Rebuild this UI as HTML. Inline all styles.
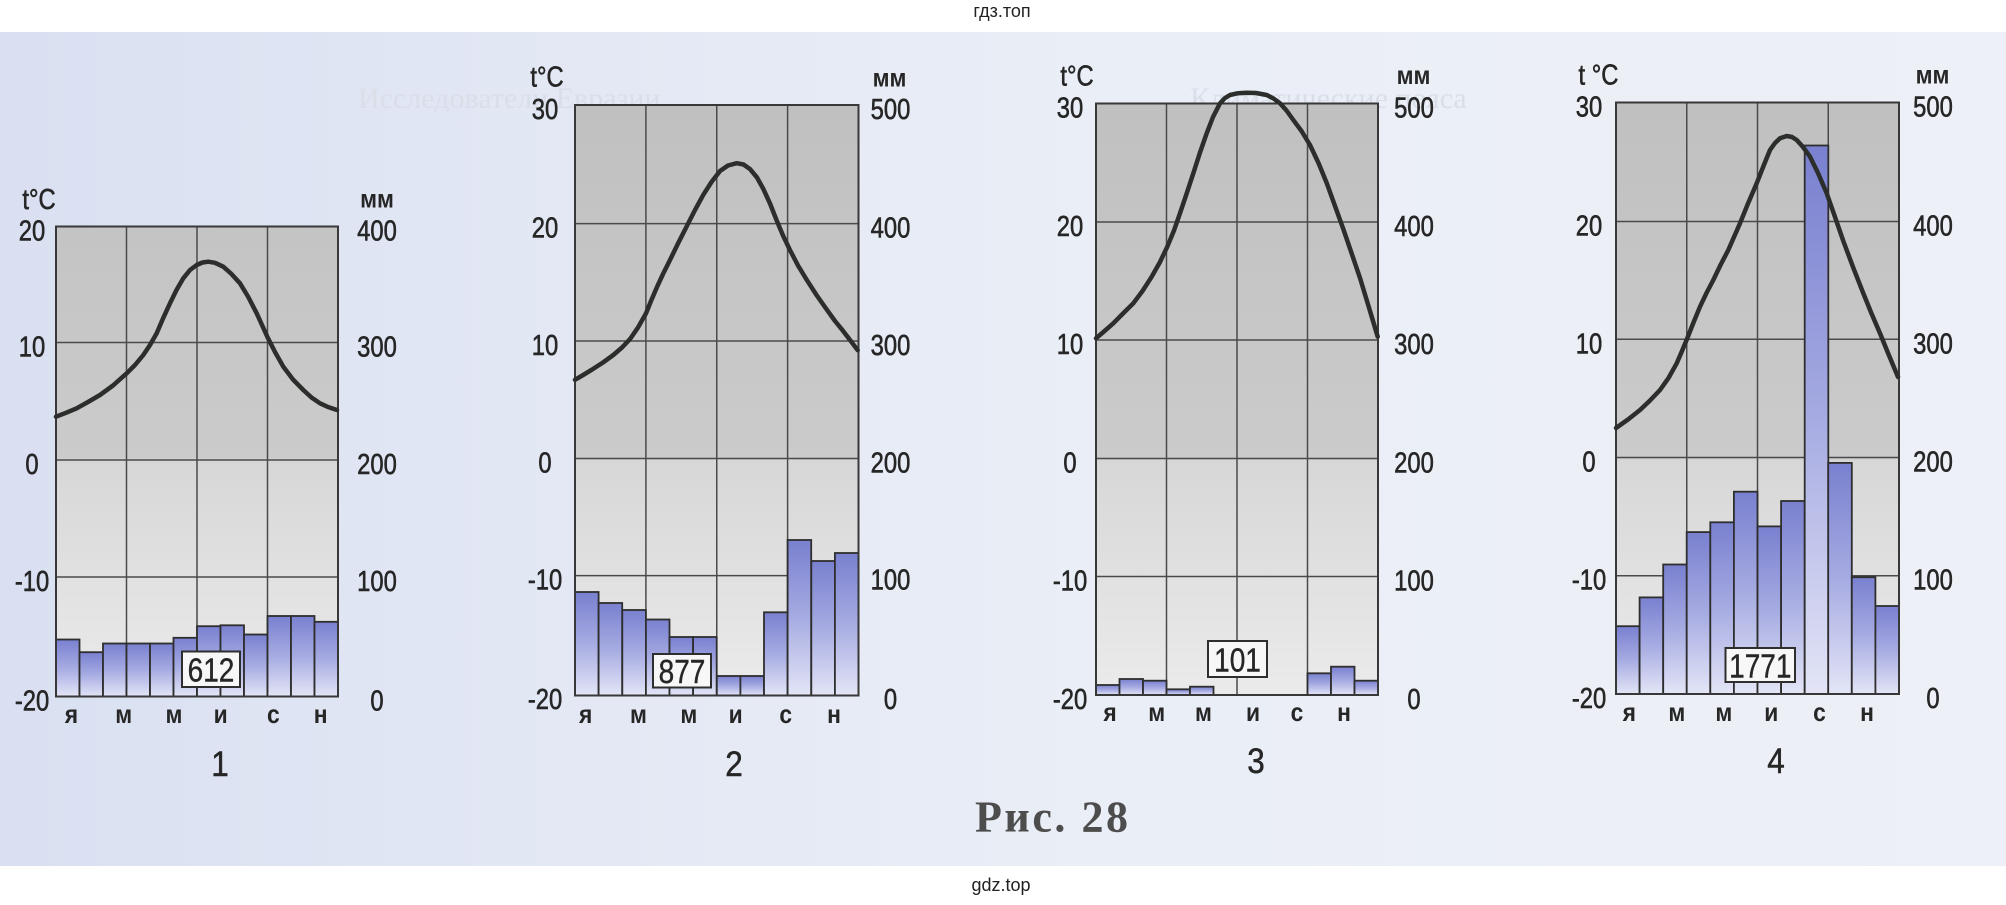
<!DOCTYPE html>
<html><head><meta charset="utf-8"><style>
html,body{margin:0;padding:0;background:#fff;}
body{width:2006px;height:905px;overflow:hidden;}
svg{display:block;}
.t{font-family:"Liberation Sans",sans-serif;font-size:29px;text-anchor:middle;fill:#262626;stroke:#262626;stroke-width:0.6;}
.m{font-family:"Liberation Sans",sans-serif;font-size:26px;font-weight:bold;text-anchor:middle;fill:#262626;}
.n{font-family:"Liberation Sans",sans-serif;font-size:35px;text-anchor:middle;fill:#262626;stroke:#262626;stroke-width:0.5;}
.b{font-family:"Liberation Sans",sans-serif;font-size:33px;text-anchor:middle;fill:#262626;stroke:#262626;stroke-width:0.4;}
.g{stroke:#4a4a4a;stroke-width:1.5;fill:none;}
.br{stroke:#2e2e2e;stroke-width:1.8;fill:url(#bar);}
.fr{fill:none;stroke:#383838;stroke-width:2;}
.cv{fill:none;stroke:#2c2e2c;stroke-width:4.5;stroke-linejoin:round;stroke-linecap:round;}
.bx{fill:#f7f7f7;stroke:#2e2e2e;stroke-width:2;}
.gh{font-family:"Liberation Serif",serif;font-size:30px;fill:#d9dee9;}
</style></head><body>
<svg width="2006" height="905" viewBox="0 0 2006 905" xmlns="http://www.w3.org/2000/svg">
<defs>
<linearGradient id="pg" x1="0" y1="0" x2="1" y2="0">
<stop offset="0" stop-color="#d9e0f1"/><stop offset="0.25" stop-color="#e2e7f4"/><stop offset="0.55" stop-color="#eaeef6"/><stop offset="1" stop-color="#edf0f6"/>
</linearGradient>
<linearGradient id="gb" gradientUnits="userSpaceOnUse" x1="0" y1="100" x2="0" y2="696">
<stop offset="0" stop-color="#c0c0c0"/><stop offset="0.6" stop-color="#cbcbcb"/><stop offset="0.605" stop-color="#d7d7d7"/><stop offset="1" stop-color="#ebebeb"/>
</linearGradient>
<linearGradient id="bar" x1="0" y1="0" x2="0" y2="1">
<stop offset="0" stop-color="#7980cf"/><stop offset="0.5" stop-color="#a6abe2"/><stop offset="1" stop-color="#e3e5f6"/>
</linearGradient>
</defs>

<rect x="0" y="0" width="2006" height="905" fill="#ffffff"/>
<rect x="0" y="32" width="2006" height="834" fill="url(#pg)"/>

<!-- faint bleed-through text -->
<text class="gh" x="358" y="108">Исследователи Евразии</text>
<text class="gh" x="1190" y="108">Климатические пояса</text>

<!-- watermarks -->
<text x="1002" y="17" font-family="Liberation Sans, sans-serif" font-size="18" text-anchor="middle" fill="#222">гдз.топ</text>
<text x="1001" y="891" font-family="Liberation Sans, sans-serif" font-size="18" text-anchor="middle" fill="#222">gdz.top</text>

<!-- ============ CHART 1 ============ -->
<rect x="56" y="226.5" width="282" height="470" fill="url(#gb)"/>
<line class="g" x1="56" y1="342.5" x2="338" y2="342.5"/>
<line class="g" x1="56" y1="460" x2="338" y2="460"/>
<line class="g" x1="56" y1="577" x2="338" y2="577"/>
<line class="g" x1="126.5" y1="226.5" x2="126.5" y2="696.5"/>
<line class="g" x1="197" y1="226.5" x2="197" y2="696.5"/>
<line class="g" x1="267.5" y1="226.5" x2="267.5" y2="696.5"/>
<rect class="br" x="56" y="639.5" width="23.5" height="57"/>
<rect class="br" x="79.5" y="652.2" width="23.5" height="44.3"/>
<rect class="br" x="103" y="643.5" width="23.5" height="53"/>
<rect class="br" x="126.5" y="643.5" width="23.5" height="53"/>
<rect class="br" x="150" y="643.5" width="23.5" height="53"/>
<rect class="br" x="173.5" y="637.8" width="23.5" height="58.7"/>
<rect class="br" x="197" y="626.2" width="23.5" height="70.3"/>
<rect class="br" x="220.5" y="625.3" width="23.5" height="71.2"/>
<rect class="br" x="244" y="634.5" width="23.5" height="62"/>
<rect class="br" x="267.5" y="616" width="23.5" height="80.5"/>
<rect class="br" x="291" y="616" width="23.5" height="80.5"/>
<rect class="br" x="314.5" y="621.8" width="23.5" height="74.7"/>
<rect class="fr" x="56" y="226.5" width="282" height="470"/>
<polyline class="cv" points="56,416.7 66,412.8 76.7,408.3 88,402 100,395 113,385.5 126.7,373.3 135,365 143.3,355 150,345 156.7,333.3 163,318.5 170,303.3 176.5,290 183.3,278.3 190,270 196.7,265 202.5,262.5 208.3,261.7 215,262.8 223.3,266.7 231,273.5 240,283.3 248,296.5 256.7,313.3 262,325 267.3,336.7 275,352 283.3,366.7 293,379.5 303.3,390 311.5,397.5 320,403.3 328,407 337,410"/>
<rect class="bx" x="182" y="651.5" width="58" height="35.5"/>
<text class="b" transform="translate(211,681.5) scale(0.85,1)">612</text>
<text class="t" transform="translate(39,209) scale(0.82,1)">t°C</text>
<text class="m" transform="translate(377,207.5) scale(0.88,1)">мм</text>
<text class="t" transform="translate(32,240.5) scale(0.82,1)">20</text>
<text class="t" transform="translate(32,356.5) scale(0.82,1)">10</text>
<text class="t" transform="translate(32,474) scale(0.82,1)">0</text>
<text class="t" transform="translate(32,591) scale(0.82,1)">-10</text>
<text class="t" transform="translate(32,710.5) scale(0.82,1)">-20</text>
<text class="t" transform="translate(377,240.5) scale(0.82,1)">400</text>
<text class="t" transform="translate(377,356.5) scale(0.82,1)">300</text>
<text class="t" transform="translate(377,474) scale(0.82,1)">200</text>
<text class="t" transform="translate(377,591) scale(0.82,1)">100</text>
<text class="t" transform="translate(377,710.5) scale(0.82,1)">0</text>
<text class="m" transform="translate(71.4,723) scale(0.88,1)">я</text>
<text class="m" transform="translate(123.7,723) scale(0.88,1)">м</text>
<text class="m" transform="translate(174,723) scale(0.88,1)">м</text>
<text class="m" transform="translate(220.7,723) scale(0.88,1)">и</text>
<text class="m" transform="translate(273.3,723) scale(0.88,1)">с</text>
<text class="m" transform="translate(320.7,723) scale(0.88,1)">н</text>
<text class="n" transform="translate(220,776) scale(0.9,1)">1</text>

<!-- ============ CHART 2 ============ -->
<rect x="575" y="105" width="283.5" height="590.5" fill="url(#gb)"/>
<line class="g" x1="575" y1="223.6" x2="858.5" y2="223.6"/>
<line class="g" x1="575" y1="341" x2="858.5" y2="341"/>
<line class="g" x1="575" y1="458.5" x2="858.5" y2="458.5"/>
<line class="g" x1="575" y1="575.6" x2="858.5" y2="575.6"/>
<line class="g" x1="645.9" y1="105" x2="645.9" y2="695.5"/>
<line class="g" x1="716.75" y1="105" x2="716.75" y2="695.5"/>
<line class="g" x1="787.6" y1="105" x2="787.6" y2="695.5"/>
<rect class="br" x="575" y="592" width="23.6" height="103.5"/>
<rect class="br" x="598.6" y="603" width="23.6" height="92.5"/>
<rect class="br" x="622.3" y="610" width="23.6" height="85.5"/>
<rect class="br" x="645.9" y="619.5" width="23.6" height="76"/>
<rect class="br" x="669.5" y="637" width="23.6" height="58.5"/>
<rect class="br" x="693.1" y="637" width="23.6" height="58.5"/>
<rect class="br" x="716.8" y="676" width="23.6" height="19.5"/>
<rect class="br" x="740.4" y="676" width="23.6" height="19.5"/>
<rect class="br" x="764" y="612.3" width="23.6" height="83.2"/>
<rect class="br" x="787.6" y="540" width="23.6" height="155.5"/>
<rect class="br" x="811.3" y="561" width="23.6" height="134.5"/>
<rect class="br" x="834.9" y="553" width="23.6" height="142.5"/>
<rect class="fr" x="575" y="105" width="283.5" height="590.5"/>
<polyline class="cv" points="575,379.8 584,374.5 593.3,368.8 603,362.5 613.3,355 622,347.5 630,339.1 638,327.5 646,313.4 651,301 656.7,287.7 663,274 670,260 678,243.5 686.7,226.4 695,210 703.3,194.8 711.5,182 720,171 728,165.5 736.7,163.2 743.5,164.5 750,169.1 757,177.5 763.3,188.9 770,203.5 776.7,220.5 783,235.5 790,250.1 798,265.5 806.7,279.8 816.5,295 826.7,309.5 835,321 843.3,331.2 850,340 857.7,350.2"/>
<rect class="bx" x="653" y="654" width="58" height="33.5"/>
<text class="b" transform="translate(682,683) scale(0.85,1)">877</text>
<text class="t" transform="translate(547,86.5) scale(0.82,1)">t°C</text>
<text class="m" transform="translate(889.5,86.5) scale(0.88,1)">мм</text>
<text class="t" transform="translate(545,119) scale(0.82,1)">30</text>
<text class="t" transform="translate(545,237.6) scale(0.82,1)">20</text>
<text class="t" transform="translate(545,355) scale(0.82,1)">10</text>
<text class="t" transform="translate(545,472.5) scale(0.82,1)">0</text>
<text class="t" transform="translate(545,589.6) scale(0.82,1)">-10</text>
<text class="t" transform="translate(545,709) scale(0.82,1)">-20</text>
<text class="t" transform="translate(890.5,119) scale(0.82,1)">500</text>
<text class="t" transform="translate(890.5,237.6) scale(0.82,1)">400</text>
<text class="t" transform="translate(890.5,355) scale(0.82,1)">300</text>
<text class="t" transform="translate(890.5,472.5) scale(0.82,1)">200</text>
<text class="t" transform="translate(890.5,589.6) scale(0.82,1)">100</text>
<text class="t" transform="translate(890.5,709) scale(0.82,1)">0</text>
<text class="m" transform="translate(585.7,723) scale(0.88,1)">я</text>
<text class="m" transform="translate(638.4,723) scale(0.88,1)">м</text>
<text class="m" transform="translate(688.8,723) scale(0.88,1)">м</text>
<text class="m" transform="translate(735.7,723) scale(0.88,1)">и</text>
<text class="m" transform="translate(785.7,723) scale(0.88,1)">с</text>
<text class="m" transform="translate(834,723) scale(0.88,1)">н</text>
<text class="n" transform="translate(734,776) scale(0.9,1)">2</text>

<!-- ============ CHART 3 ============ -->
<rect x="1096" y="103.5" width="282" height="591.5" fill="url(#gb)"/>
<line class="g" x1="1096" y1="222" x2="1378" y2="222"/>
<line class="g" x1="1096" y1="340" x2="1378" y2="340"/>
<line class="g" x1="1096" y1="458.5" x2="1378" y2="458.5"/>
<line class="g" x1="1096" y1="576.5" x2="1378" y2="576.5"/>
<line class="g" x1="1166.5" y1="103.5" x2="1166.5" y2="695"/>
<line class="g" x1="1237" y1="103.5" x2="1237" y2="695"/>
<line class="g" x1="1307.5" y1="103.5" x2="1307.5" y2="695"/>
<rect class="br" x="1096" y="685" width="23.5" height="10"/>
<rect class="br" x="1119.5" y="679" width="23.5" height="16"/>
<rect class="br" x="1143" y="680.7" width="23.5" height="14.3"/>
<rect class="br" x="1166.5" y="689.3" width="23.5" height="5.7"/>
<rect class="br" x="1190" y="686.7" width="23.5" height="8.3"/>
<rect class="br" x="1307.5" y="673.3" width="23.5" height="21.7"/>
<rect class="br" x="1331" y="666.7" width="23.5" height="28.3"/>
<rect class="br" x="1354.5" y="680.7" width="23.5" height="14.3"/>
<rect class="fr" x="1096" y="103.5" width="282" height="591.5"/>
<polyline class="cv" points="1096,338.3 1104,331.5 1113.3,323.3 1123,313.5 1133.3,303.3 1142.5,291 1151.7,276.7 1160,262 1167.3,246.7 1174,230.5 1180,213.3 1186.5,194 1193.3,173.3 1200,152.5 1206.7,133.3 1213,117 1220,103.3 1225,98 1230,95 1238,93.2 1246.7,92.7 1256,93 1266.7,95 1273.5,98.5 1280,103.3 1286.5,110.5 1293.3,120 1301.5,131 1310,145 1318.5,163 1326.7,183 1335,206 1343.3,229 1351.5,253 1360,278 1368.5,306 1377.7,336.7"/>
<rect class="bx" x="1208" y="641" width="59" height="36"/>
<text class="b" transform="translate(1237.5,671.5) scale(0.85,1)">101</text>
<text class="t" transform="translate(1077,85.5) scale(0.82,1)">t°C</text>
<text class="m" transform="translate(1413.5,84) scale(0.88,1)">мм</text>
<text class="t" transform="translate(1070,117.5) scale(0.82,1)">30</text>
<text class="t" transform="translate(1070,236) scale(0.82,1)">20</text>
<text class="t" transform="translate(1070,354) scale(0.82,1)">10</text>
<text class="t" transform="translate(1070,472.5) scale(0.82,1)">0</text>
<text class="t" transform="translate(1070,590.5) scale(0.82,1)">-10</text>
<text class="t" transform="translate(1070,709) scale(0.82,1)">-20</text>
<text class="t" transform="translate(1414,117.5) scale(0.82,1)">500</text>
<text class="t" transform="translate(1414,236) scale(0.82,1)">400</text>
<text class="t" transform="translate(1414,354) scale(0.82,1)">300</text>
<text class="t" transform="translate(1414,472.5) scale(0.82,1)">200</text>
<text class="t" transform="translate(1414,590.5) scale(0.82,1)">100</text>
<text class="t" transform="translate(1414,709) scale(0.82,1)">0</text>
<text class="m" transform="translate(1110,721) scale(0.88,1)">я</text>
<text class="m" transform="translate(1156.7,721) scale(0.88,1)">м</text>
<text class="m" transform="translate(1203.5,721) scale(0.88,1)">м</text>
<text class="m" transform="translate(1253,721) scale(0.88,1)">и</text>
<text class="m" transform="translate(1297,721) scale(0.88,1)">с</text>
<text class="m" transform="translate(1344,721) scale(0.88,1)">н</text>
<text class="n" transform="translate(1256,773) scale(0.9,1)">3</text>

<!-- ============ CHART 4 ============ -->
<rect x="1616" y="102.5" width="283" height="591.5" fill="url(#gb)"/>
<line class="g" x1="1616" y1="221.5" x2="1899" y2="221.5"/>
<line class="g" x1="1616" y1="339.3" x2="1899" y2="339.3"/>
<line class="g" x1="1616" y1="457.5" x2="1899" y2="457.5"/>
<line class="g" x1="1616" y1="575.7" x2="1899" y2="575.7"/>
<line class="g" x1="1686.75" y1="102.5" x2="1686.75" y2="694"/>
<line class="g" x1="1757.5" y1="102.5" x2="1757.5" y2="694"/>
<line class="g" x1="1828.25" y1="102.5" x2="1828.25" y2="694"/>
<rect class="br" x="1616" y="626.2" width="23.6" height="67.8"/>
<rect class="br" x="1639.6" y="597.4" width="23.6" height="96.6"/>
<rect class="br" x="1663.2" y="564.5" width="23.6" height="129.5"/>
<rect class="br" x="1686.7" y="532.1" width="23.6" height="161.9"/>
<rect class="br" x="1710.3" y="522.3" width="23.6" height="171.7"/>
<rect class="br" x="1733.9" y="491.7" width="23.6" height="202.3"/>
<rect class="br" x="1757.5" y="526.4" width="23.6" height="167.6"/>
<rect class="br" x="1781.1" y="501" width="23.6" height="193"/>
<rect class="br" x="1804.7" y="145.5" width="23.6" height="548.5"/>
<rect class="br" x="1828.2" y="462.9" width="23.6" height="231.1"/>
<rect class="br" x="1851.8" y="577.2" width="23.6" height="116.8"/>
<rect class="br" x="1875.4" y="606" width="23.6" height="88"/>
<rect class="fr" x="1616" y="102.5" width="283" height="591.5"/>
<polyline class="cv" points="1616,428 1628,419.5 1640,410 1650,400.5 1660,390 1668.5,378 1676.7,363.3 1682,351 1687.3,338.3 1693.5,322.5 1700,306.7 1706.5,293 1713.3,280 1720.5,265 1728.3,250 1734,237 1740,223.3 1748,203.5 1756.7,183.3 1763.5,166 1770,150 1775,143 1780,138.3 1786.7,136 1792,137 1796.7,140 1803,147 1810,156.7 1818,173 1826.7,193.3 1835,217 1843.3,241 1853,267 1863.3,293.3 1871.5,313.5 1880,333.3 1888,353 1898,377"/>
<rect class="bx" x="1725.5" y="648" width="69.5" height="34"/>
<text class="b" transform="translate(1760.3,677.5) scale(0.85,1)">1771</text>
<text class="t" transform="translate(1598.5,84.5) scale(0.82,1)">t °C</text>
<text class="m" transform="translate(1932.5,83.5) scale(0.88,1)">мм</text>
<text class="t" transform="translate(1589,116.5) scale(0.82,1)">30</text>
<text class="t" transform="translate(1589,235.5) scale(0.82,1)">20</text>
<text class="t" transform="translate(1589,353.3) scale(0.82,1)">10</text>
<text class="t" transform="translate(1589,471.5) scale(0.82,1)">0</text>
<text class="t" transform="translate(1589,589.7) scale(0.82,1)">-10</text>
<text class="t" transform="translate(1589,708) scale(0.82,1)">-20</text>
<text class="t" transform="translate(1933,116.5) scale(0.82,1)">500</text>
<text class="t" transform="translate(1933,235.5) scale(0.82,1)">400</text>
<text class="t" transform="translate(1933,353.3) scale(0.82,1)">300</text>
<text class="t" transform="translate(1933,471.5) scale(0.82,1)">200</text>
<text class="t" transform="translate(1933,589.7) scale(0.82,1)">100</text>
<text class="t" transform="translate(1933,708) scale(0.82,1)">0</text>
<text class="m" transform="translate(1629.3,721) scale(0.88,1)">я</text>
<text class="m" transform="translate(1676.8,721) scale(0.88,1)">м</text>
<text class="m" transform="translate(1723.8,721) scale(0.88,1)">м</text>
<text class="m" transform="translate(1771.3,721) scale(0.88,1)">и</text>
<text class="m" transform="translate(1819.5,721) scale(0.88,1)">с</text>
<text class="m" transform="translate(1867,721) scale(0.88,1)">н</text>
<text class="n" transform="translate(1776,773) scale(0.9,1)">4</text>

<!-- caption -->
<text x="975" y="831.5" font-family="Liberation Serif, serif" font-size="44" font-weight="bold" fill="#4d4d4d" textLength="153" lengthAdjust="spacing">Рис. 28</text>
</svg>
</body></html>
